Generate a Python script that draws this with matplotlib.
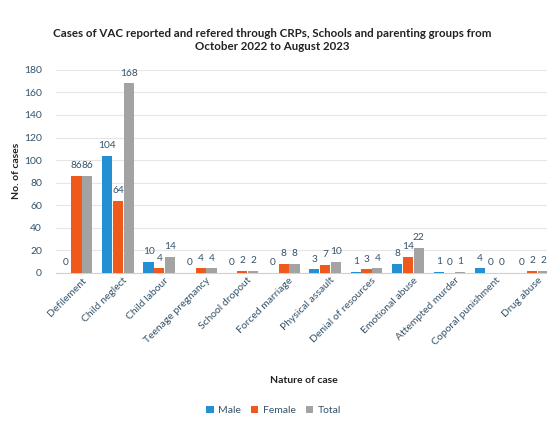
import matplotlib.pyplot as plt
import matplotlib.transforms as mtransforms
import numpy as np

# data
categories = ["Defilement", "Child neglect", "Child labour", "Teenage pregnancy",
              "School dropout", "Forced marriage", "Physical assault",
              "Denial of resources", "Emotional abuse", "Attempted murder",
              "Coporal punishment", "Drug abuse"]
male = [0, 104, 10, 0, 0, 0, 3, 1, 8, 1, 4, 0]
female = [86, 64, 4, 4, 2, 8, 7, 3, 14, 0, 0, 2]
total = [86, 168, 14, 4, 2, 8, 10, 4, 22, 1, 0, 2]

c_male = "#2390d4"
c_female = "#ef5a1c"
c_total = "#a3a3a3"
txt = "#34536b"

plt.rcParams['font.family'] = ['Lato', 'DejaVu Sans']

fig = plt.figure(figsize=(5.47, 4.21), dpi=100)
ax = fig.add_axes([0.102, 0.352, 0.909, 0.482])

x = np.arange(len(categories))
w = 0.26
series = [(male, c_male, "Male", -w), (female, c_female, "Female", 0), (total, c_total, "Total", w)]
for vals, col, name, off in series:
    bars = ax.bar(x + off, vals, w * 0.95, color=col, label=name, zorder=3)
    for b, v in zip(bars, vals):
        ax.text(b.get_x() + b.get_width() / 2, v + 5, str(v), ha="center", va="bottom",
                fontsize=7.3, color=txt, clip_on=False)

ax.set_xlim(-0.5, len(categories) - 0.5)
ax.set_ylim(0, 180)
ax.set_yticks(range(0, 181, 20))
ax.yaxis.grid(True, color="#e6e6e6", linewidth=0.8, zorder=0)
for s in ["top", "right", "left"]:
    ax.spines[s].set_visible(False)
ax.spines["bottom"].set_color("#d0d0d0")
ax.tick_params(axis="both", length=0, labelsize=7.5, colors=txt)
ax.tick_params(axis="y", pad=10)
ax.set_xticks(x)
ax.set_xticklabels(categories, rotation=45, ha="right", rotation_mode="anchor")
shift = mtransforms.ScaledTranslation(0.05, 0.02, fig.dpi_scale_trans)
for lbl in ax.get_xticklabels():
    lbl.set_transform(lbl.get_transform() + shift)

fig.text(0.03, 0.595, "No. of cases", rotation=90, ha="center", va="center",
         fontsize=7.5, fontweight="bold", color="#222222")
fig.text(0.555, 0.097, "Nature of case", ha="center", va="center",
         fontsize=7.5, fontweight="bold", color="#222222")
fig.text(0.497, 0.905, "Cases of VAC reported and refered through CRPs, Schools and parenting groups from\nOctober 2022 to August 2023",
         ha="center", va="center", fontsize=8.3, fontweight="bold", color="#222222",
         linespacing=1.3)

fig.legend(loc="center", bbox_to_anchor=(0.5, 0.025), ncol=3, frameon=False,
           fontsize=7.5, handlelength=0.7, handleheight=0.7, columnspacing=1.0,
           handletextpad=0.4, labelcolor=txt)

fig.savefig("out.png", dpi=100)
